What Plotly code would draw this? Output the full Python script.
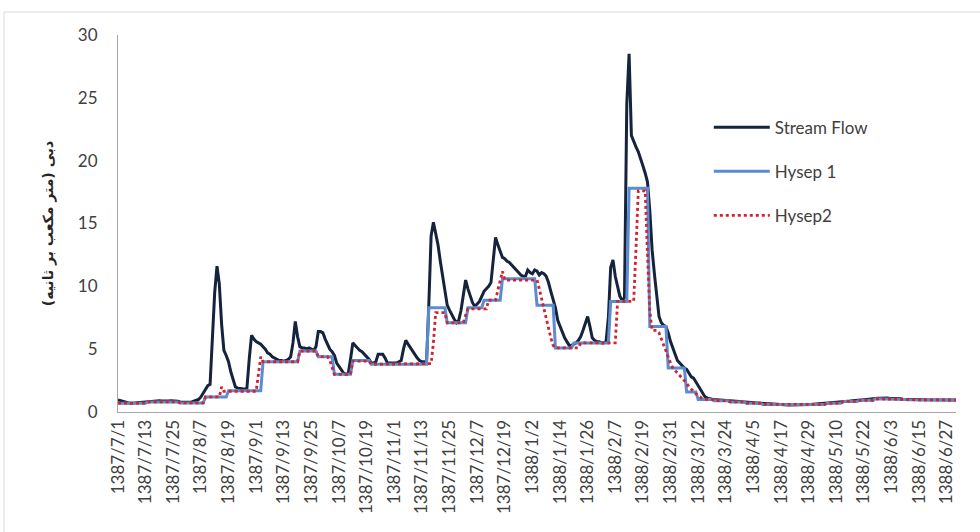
import plotly.graph_objects as go

# Daily discharge (m3/s), hydrological year 1387/7/1 .. 1388/6/31 (365 days)
stream_flow = [
    0.95, 0.9, 0.82, 0.76, 0.72, 0.7, 0.7, 0.72, 0.74, 0.75,
    0.76, 0.78, 0.8, 0.83, 0.86, 0.9, 0.9, 0.92, 0.9, 0.88,
    0.86, 0.86, 0.88, 0.9, 0.9, 0.88, 0.85, 0.8, 0.78, 0.76,
    0.76, 0.78, 0.8, 0.85, 0.9, 1.0, 1.2, 1.5, 1.9, 2.1,
    2.2, 5.5, 9.5, 11.6, 10.2, 7.0, 4.9, 4.5, 4.0, 3.2,
    2.5, 2.0, 1.9, 1.9, 1.85, 1.8, 1.9, 4.2, 6.1, 5.8,
    5.6, 5.5, 5.4, 5.2, 5.0, 4.7, 4.6, 4.4, 4.3, 4.2,
    4.1, 4.1, 4.05, 4.1, 4.2, 4.4, 5.5, 7.2, 6.0, 5.2,
    5.1, 5.1, 5.0, 5.1, 5.0, 4.9, 5.2, 6.4, 6.4, 6.3,
    5.8, 5.4, 5.0, 4.8, 4.5, 3.9, 3.6, 3.3, 3.1, 3.0,
    3.05, 4.2, 5.5, 5.3, 5.1, 4.9, 4.8, 4.6, 4.4, 4.2,
    3.9, 3.9, 4.0, 4.6, 4.6, 4.6, 4.3, 3.9, 3.9, 3.9,
    3.9, 3.9, 4.0, 4.1, 5.0, 5.7, 5.4, 5.1, 4.9, 4.6,
    4.3, 4.1, 4.0, 4.0, 3.9, 8.5, 14.0, 15.1, 14.2, 13.3,
    12.0, 10.8, 9.5, 8.5, 8.1, 7.7, 7.4, 7.1, 7.3, 8.1,
    9.2, 10.5, 9.8, 9.2, 8.7, 8.4, 8.6, 8.8, 9.2, 9.6,
    9.8, 10.0, 10.3, 12.1, 13.9, 13.3, 12.8, 12.3, 12.2, 12.0,
    11.9, 11.7, 11.5, 11.3, 11.1, 10.9, 10.8, 10.8, 11.3, 11.1,
    11.0, 11.3, 11.2, 10.9, 11.1, 11.0, 10.8, 10.3, 9.6, 8.9,
    8.3, 7.3, 6.8, 6.4, 5.9, 5.6, 5.3, 5.3, 5.4, 5.5,
    5.7, 6.0, 6.5, 7.0, 7.6, 6.8, 5.9, 5.7, 5.6, 5.6,
    5.5, 5.5, 5.6, 7.5, 11.5, 12.1, 10.8, 10.0, 9.2, 8.9,
    9.1, 24.5, 28.5, 22.0, 21.5, 21.1, 20.7, 20.2, 19.6, 19.0,
    18.3, 16.0, 12.9, 11.0, 9.3, 7.6, 7.1, 6.9, 6.8, 6.3,
    5.6, 5.0, 4.6, 4.1, 3.9, 3.7, 3.5, 3.4, 3.1, 2.8,
    2.7, 2.4, 2.0, 1.8, 1.4, 1.2, 1.1, 1.05, 1.0, 0.98,
    0.97, 0.95, 0.95, 0.93, 0.92, 0.9, 0.88, 0.86, 0.85, 0.84,
    0.83, 0.82, 0.8, 0.8, 0.78, 0.76, 0.75, 0.73, 0.72, 0.7,
    0.7, 0.68, 0.66, 0.65, 0.63, 0.62, 0.6, 0.6, 0.58, 0.57,
    0.56, 0.55, 0.55, 0.55, 0.55, 0.55, 0.55, 0.56, 0.56, 0.57,
    0.58, 0.6, 0.62, 0.64, 0.66, 0.68, 0.7, 0.7, 0.7, 0.72,
    0.74, 0.76, 0.78, 0.8, 0.82, 0.84, 0.85, 0.86, 0.87, 0.88,
    0.9, 0.92, 0.93, 0.95, 0.97, 1.0, 1.02, 1.05, 1.07, 1.1,
    1.1, 1.1, 1.12, 1.12, 1.12, 1.1, 1.1, 1.1, 1.08, 1.05,
    1.05, 1.02, 1.0, 1.0, 1.0, 1.0, 1.0, 0.98, 0.98, 0.98,
    0.98, 0.97, 0.97, 0.97, 0.97, 0.97, 0.96, 0.96, 0.96, 0.96,
    0.96, 0.96, 0.95, 0.95, 0.95,
]

# Baseflow, HYSEP fixed-interval (step values held over each interval)
hysep1 = (
    [0.7] * 13 + [0.8] * 14 + [0.72] * 11 + [1.2] * 10 + [1.7] * 15
    + [4.0] * 16 + [4.85] * 8 + [4.4] * 7 + [3.0] * 8 + [4.1] * 8
    + [3.8] * 25 + [8.3] * 8 + [7.1] * 9 + [8.3] * 7 + [8.9] * 8
    + [10.6] * 15 + [8.5] * 8 + [5.1] * 8 + [5.5] * 16 + [8.8] * 8
    + [17.8] * 9 + [6.8] * 8 + [3.5] * 8 + [1.6] * 5 + [1.0] * 7
    + [0.9] * 7 + [0.8] * 7 + [0.7] * 7 + [0.6] * 7 + [0.55] * 14
    + [0.6] * 7 + [0.7] * 7 + [0.84] * 7 + [0.93] * 7 + [1.05] * 7
    + [1.0] * 7 + [0.98] * 7 + [0.96] * 7 + [0.95] * 8
)

# Baseflow, HYSEP sliding-interval
hysep2 = (
    [0.7] * 13 + [0.8] * 14 + [0.72] * 11 + [1.2] * 7 + [2.0]
    + [1.65] * 15 + [3.0, 4.4] + [4.0] * 16 + [4.85] * 8 + [4.4] * 5
    + [4.1, 3.5] + [3.0] * 8 + [4.05] * 8 + [3.8] * 26 + [3.85, 5.5, 7.9]
    + [7.9] * 4 + [7.1] * 8 + [7.7] + [8.2] * 9 + [8.9] * 4
    + [9.7, 10.4, 11.2] + [10.5] * 15
    + [9.8, 9.0, 8.2, 7.4, 6.6, 5.9, 5.3] + [5.1] * 11 + [5.5] * 16
    + [8.8] * 8 + [13.0] + [17.6] * 4 + [12.5, 8.0] + [6.5] * 3
    + [6.3, 5.8, 5.3, 4.9, 4.4, 3.9, 3.5, 3.3, 3.1, 2.9, 2.7,
       2.5, 2.3, 2.0, 1.8, 1.6, 1.45, 1.3, 1.15, 1.05, 1.0]
    + [1.0] * 3
    + [0.9] * 7 + [0.8] * 7 + [0.7] * 7 + [0.6] * 7 + [0.55] * 14
    + [0.6] * 7 + [0.7] * 7 + [0.84] * 7 + [0.93] * 7 + [1.05] * 7
    + [1.0] * 7 + [0.98] * 7 + [0.96] * 7 + [0.95] * 8
)

# Category labels shown every 12th day
tick_labels = [
    "1387/7/1", "1387/7/13", "1387/7/25", "1387/8/7", "1387/8/19",
    "1387/9/1", "1387/9/13", "1387/9/25", "1387/10/7", "1387/10/19",
    "1387/11/1", "1387/11/13", "1387/11/25", "1387/12/7", "1387/12/19",
    "1388/1/2", "1388/1/14", "1388/1/26", "1388/2/7", "1388/2/19",
    "1388/2/31", "1388/3/12", "1388/3/24", "1388/4/5", "1388/4/17",
    "1388/4/29", "1388/5/10", "1388/5/22", "1388/6/3", "1388/6/15",
    "1388/6/27",
]

days = list(range(len(stream_flow)))
tick_days = days[::12]

fig = go.Figure()
fig.add_trace(go.Scatter(
    x=days, y=stream_flow, mode="lines", name="Stream Flow",
    line=dict(color="#15233d", width=3), legendgroup="a",
))
fig.add_trace(go.Scatter(
    x=days, y=hysep1, mode="lines", name="Hysep 1",
    line=dict(color="#5b8cd2", width=3), legendgroup="b",
))
fig.add_trace(go.Scatter(
    x=days, y=hysep2, mode="lines", name="Hysep2",
    line=dict(color="#d2232e", width=2.8, dash="dot"), legendgroup="c",
))

label_font = dict(family="Lato, 'Open Sans', sans-serif", size=17, color="#404040")

fig.update_layout(
    width=980, height=532,
    margin=dict(l=118, r=24, t=35, b=120),
    paper_bgcolor="white", plot_bgcolor="white",
    showlegend=True,
    legend=dict(
        x=0.705, y=0.802, xanchor="left", yanchor="top",
        font=dict(family="Lato, 'Open Sans', sans-serif", size=17, color="#404040"),
        bgcolor="rgba(0,0,0,0)", traceorder="grouped", tracegroupgap=19,
        itemwidth=56,
    ),
    xaxis=dict(
        range=[0, len(stream_flow) - 1],
        tickmode="array", tickvals=tick_days, ticktext=tick_labels,
        tickangle=-90, tickfont=label_font,
        showline=True, linecolor="#a6a6a6", linewidth=1,
        showgrid=False, zeroline=False, ticks="",
    ),
    yaxis=dict(
        range=[0, 30], dtick=5, tickfont=label_font,
        showline=True, linecolor="#a6a6a6", linewidth=1,
        showgrid=False, zeroline=False, ticks="",
        ticklabelstandoff=16,
        title=dict(
            text="<b>دبی (متر مکعب بر ثانیه)</b>",
            font=dict(family="'DejaVu Sans', sans-serif", size=14, color="#262626"),
            standoff=20,
        ),
    ),
    shapes=[dict(
        type="rect", xref="paper", yref="paper",
        x0=-114 / 838, x1=1.04, y0=-0.45, y1=400 / 377,
        line=dict(color="#d9d9d9", width=1), fillcolor="rgba(0,0,0,0)",
    )],
)

fig.write_html("out.html")
